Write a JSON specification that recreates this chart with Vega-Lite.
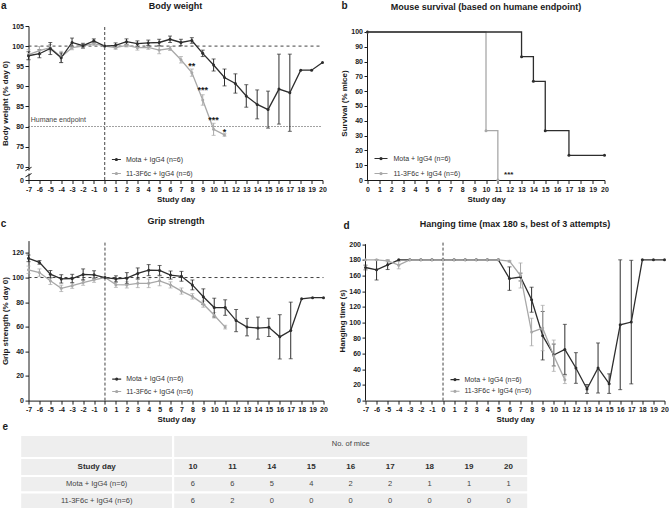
{
"$schema": "https://vega.github.io/schema/vega-lite/v6.json",
"background": "white",
"padding": {"left": 0.5, "top": 0, "right": 0, "bottom": 0},
"config": {
 "font": "Liberation Sans",
 "view": {"stroke": null},
 "axis": {"grid": false, "domainColor": "#1a1a1a", "tickColor": "#1a1a1a", "labelColor": "#1a1a1a", "titleColor": "#1a1a1a", "labelFont": "Liberation Sans", "titleFont": "Liberation Sans", "labelFontSize": 7, "labelFontWeight": "bold", "titleFontSize": 8, "titleFontWeight": "bold", "tickSize": 3.5, "tickWidth": 1, "domainWidth": 1, "labelPadding": 1.5, "titlePadding": 3, "labelFlush": false, "labelOverlap": false},
 "axisY": {"titlePadding": 2},
 "title": {"font": "Liberation Sans", "fontSize": 9, "fontWeight": "bold", "color": "#1a1a1a", "frame": "group", "anchor": "middle"},
 "legend": {"labelFont": "Liberation Sans", "labelFontSize": 7, "labelColor": "#333333", "padding": 0, "symbolStrokeWidth": 0, "symbolOpacity": 1}
},
"datasets": {
 "bw": [
  {"g":"11-3F6c + IgG4 (n=6)","day":-7,"m":97.9,"e":1.2},
  {"g":"11-3F6c + IgG4 (n=6)","day":-6,"m":98.9,"e":1.0},
  {"g":"11-3F6c + IgG4 (n=6)","day":-5,"m":99.6,"e":0.8},
  {"g":"11-3F6c + IgG4 (n=6)","day":-4,"m":97.3,"e":1.4},
  {"g":"11-3F6c + IgG4 (n=6)","day":-3,"m":99.6,"e":0.5},
  {"g":"11-3F6c + IgG4 (n=6)","day":-2,"m":100.0,"e":0.4},
  {"g":"11-3F6c + IgG4 (n=6)","day":-1,"m":100.6,"e":0.4},
  {"g":"11-3F6c + IgG4 (n=6)","day":0,"m":100,"e":0},
  {"g":"11-3F6c + IgG4 (n=6)","day":1,"m":99.6,"e":0.4},
  {"g":"11-3F6c + IgG4 (n=6)","day":2,"m":100.2,"e":0.4},
  {"g":"11-3F6c + IgG4 (n=6)","day":3,"m":99.6,"e":0.6},
  {"g":"11-3F6c + IgG4 (n=6)","day":4,"m":99.7,"e":0.5},
  {"g":"11-3F6c + IgG4 (n=6)","day":5,"m":99.0,"e":0.9},
  {"g":"11-3F6c + IgG4 (n=6)","day":6,"m":99.4,"e":0.5},
  {"g":"11-3F6c + IgG4 (n=6)","day":7,"m":96.6,"e":0.8},
  {"g":"11-3F6c + IgG4 (n=6)","day":8,"m":93.4,"e":0.9},
  {"g":"11-3F6c + IgG4 (n=6)","day":9,"m":86.6,"e":1.3},
  {"g":"11-3F6c + IgG4 (n=6)","day":10,"m":79.3,"e":1.5},
  {"g":"11-3F6c + IgG4 (n=6)","day":11,"m":77.9,"e":0.3},
  {"g":"Mota + IgG4 (n=6)","day":-7,"m":97.6,"e":1.0},
  {"g":"Mota + IgG4 (n=6)","day":-6,"m":98.1,"e":1.0},
  {"g":"Mota + IgG4 (n=6)","day":-5,"m":99.4,"e":1.5},
  {"g":"Mota + IgG4 (n=6)","day":-4,"m":97.1,"e":1.2},
  {"g":"Mota + IgG4 (n=6)","day":-3,"m":100.9,"e":1.1},
  {"g":"Mota + IgG4 (n=6)","day":-2,"m":100.1,"e":0.6},
  {"g":"Mota + IgG4 (n=6)","day":-1,"m":101.3,"e":0.5},
  {"g":"Mota + IgG4 (n=6)","day":0,"m":100,"e":0},
  {"g":"Mota + IgG4 (n=6)","day":1,"m":100.2,"e":0.6},
  {"g":"Mota + IgG4 (n=6)","day":2,"m":101.1,"e":0.7},
  {"g":"Mota + IgG4 (n=6)","day":3,"m":100.6,"e":0.7},
  {"g":"Mota + IgG4 (n=6)","day":4,"m":100.8,"e":0.7},
  {"g":"Mota + IgG4 (n=6)","day":5,"m":100.9,"e":0.8},
  {"g":"Mota + IgG4 (n=6)","day":6,"m":101.7,"e":0.8},
  {"g":"Mota + IgG4 (n=6)","day":7,"m":100.9,"e":0.8},
  {"g":"Mota + IgG4 (n=6)","day":8,"m":101.4,"e":0.7},
  {"g":"Mota + IgG4 (n=6)","day":9,"m":98.2,"e":0.8},
  {"g":"Mota + IgG4 (n=6)","day":10,"m":95.3,"e":1.5},
  {"g":"Mota + IgG4 (n=6)","day":11,"m":92.2,"e":2.1},
  {"g":"Mota + IgG4 (n=6)","day":12,"m":90.7,"e":2.4},
  {"g":"Mota + IgG4 (n=6)","day":13,"m":87.6,"e":2.8},
  {"g":"Mota + IgG4 (n=6)","day":14,"m":85.5,"e":3.6},
  {"g":"Mota + IgG4 (n=6)","day":15,"m":84.2,"e":4.6},
  {"g":"Mota + IgG4 (n=6)","day":16,"m":89.3,"e":8.7},
  {"g":"Mota + IgG4 (n=6)","day":17,"m":88.4,"e":9.6},
  {"g":"Mota + IgG4 (n=6)","day":18,"m":94.0,"e":0},
  {"g":"Mota + IgG4 (n=6)","day":19,"m":94.0,"e":0},
  {"g":"Mota + IgG4 (n=6)","day":20,"m":95.9,"e":0}
 ],
 "gs": [
  {"g":"11-3F6c + IgG4 (n=6)","day":-7,"m":106.3,"e":3},
  {"g":"11-3F6c + IgG4 (n=6)","day":-6,"m":104,"e":3},
  {"g":"11-3F6c + IgG4 (n=6)","day":-5,"m":97.3,"e":3},
  {"g":"11-3F6c + IgG4 (n=6)","day":-4,"m":91.2,"e":2.6},
  {"g":"11-3F6c + IgG4 (n=6)","day":-3,"m":93.4,"e":2.2},
  {"g":"11-3F6c + IgG4 (n=6)","day":-2,"m":95.9,"e":2.2},
  {"g":"11-3F6c + IgG4 (n=6)","day":-1,"m":98.1,"e":2},
  {"g":"11-3F6c + IgG4 (n=6)","day":0,"m":100,"e":0},
  {"g":"11-3F6c + IgG4 (n=6)","day":1,"m":94.2,"e":2.2},
  {"g":"11-3F6c + IgG4 (n=6)","day":2,"m":94,"e":2.5},
  {"g":"11-3F6c + IgG4 (n=6)","day":3,"m":95.3,"e":3.5},
  {"g":"11-3F6c + IgG4 (n=6)","day":4,"m":95.3,"e":3.5},
  {"g":"11-3F6c + IgG4 (n=6)","day":5,"m":97.3,"e":4},
  {"g":"11-3F6c + IgG4 (n=6)","day":6,"m":94,"e":2.5},
  {"g":"11-3F6c + IgG4 (n=6)","day":7,"m":89,"e":2.5},
  {"g":"11-3F6c + IgG4 (n=6)","day":8,"m":84.7,"e":2.2},
  {"g":"11-3F6c + IgG4 (n=6)","day":9,"m":78.4,"e":2.5},
  {"g":"11-3F6c + IgG4 (n=6)","day":10,"m":69.3,"e":2.2},
  {"g":"11-3F6c + IgG4 (n=6)","day":11,"m":59.7,"e":1.5},
  {"g":"Mota + IgG4 (n=6)","day":-7,"m":115.6,"e":2.7},
  {"g":"Mota + IgG4 (n=6)","day":-6,"m":112.3,"e":1.5},
  {"g":"Mota + IgG4 (n=6)","day":-5,"m":102.7,"e":3},
  {"g":"Mota + IgG4 (n=6)","day":-4,"m":98.9,"e":3.4},
  {"g":"Mota + IgG4 (n=6)","day":-3,"m":99.2,"e":3.4},
  {"g":"Mota + IgG4 (n=6)","day":-2,"m":102.5,"e":4.5},
  {"g":"Mota + IgG4 (n=6)","day":-1,"m":102.2,"e":3.3},
  {"g":"Mota + IgG4 (n=6)","day":0,"m":100,"e":0},
  {"g":"Mota + IgG4 (n=6)","day":1,"m":98.9,"e":2.5},
  {"g":"Mota + IgG4 (n=6)","day":2,"m":99.5,"e":4.5},
  {"g":"Mota + IgG4 (n=6)","day":3,"m":103.3,"e":4.5},
  {"g":"Mota + IgG4 (n=6)","day":4,"m":106,"e":4.5},
  {"g":"Mota + IgG4 (n=6)","day":5,"m":105.8,"e":4},
  {"g":"Mota + IgG4 (n=6)","day":6,"m":102,"e":3.3},
  {"g":"Mota + IgG4 (n=6)","day":7,"m":101,"e":4},
  {"g":"Mota + IgG4 (n=6)","day":8,"m":94,"e":4},
  {"g":"Mota + IgG4 (n=6)","day":9,"m":84.4,"e":6.4},
  {"g":"Mota + IgG4 (n=6)","day":10,"m":75.6,"e":7.6},
  {"g":"Mota + IgG4 (n=6)","day":11,"m":75.6,"e":6.3},
  {"g":"Mota + IgG4 (n=6)","day":12,"m":65,"e":9},
  {"g":"Mota + IgG4 (n=6)","day":13,"m":59.7,"e":7.1},
  {"g":"Mota + IgG4 (n=6)","day":14,"m":58.9,"e":9},
  {"g":"Mota + IgG4 (n=6)","day":15,"m":59.5,"e":7.4},
  {"g":"Mota + IgG4 (n=6)","day":16,"m":51.8,"e":18},
  {"g":"Mota + IgG4 (n=6)","day":17,"m":57,"e":23},
  {"g":"Mota + IgG4 (n=6)","day":18,"m":82.7,"e":0},
  {"g":"Mota + IgG4 (n=6)","day":19,"m":83.6,"e":0},
  {"g":"Mota + IgG4 (n=6)","day":20,"m":83.6,"e":0}
 ],
 "ht": [
  {"g":"Mota + IgG4 (n=6)","day":-7,"m":170.2,"e":3},
  {"g":"Mota + IgG4 (n=6)","day":-6,"m":167.2,"e":13},
  {"g":"Mota + IgG4 (n=6)","day":-5,"m":173.6,"e":6},
  {"g":"Mota + IgG4 (n=6)","day":-4,"m":180,"e":0},
  {"g":"Mota + IgG4 (n=6)","day":-3,"m":180,"e":0},
  {"g":"Mota + IgG4 (n=6)","day":-2,"m":180,"e":0},
  {"g":"Mota + IgG4 (n=6)","day":-1,"m":180,"e":0},
  {"g":"Mota + IgG4 (n=6)","day":0,"m":180,"e":0},
  {"g":"Mota + IgG4 (n=6)","day":1,"m":180,"e":0},
  {"g":"Mota + IgG4 (n=6)","day":2,"m":180,"e":0},
  {"g":"Mota + IgG4 (n=6)","day":3,"m":180,"e":0},
  {"g":"Mota + IgG4 (n=6)","day":4,"m":180,"e":0},
  {"g":"Mota + IgG4 (n=6)","day":5,"m":180,"e":0},
  {"g":"Mota + IgG4 (n=6)","day":6,"m":156,"e":15},
  {"g":"Mota + IgG4 (n=6)","day":7,"m":158,"e":5},
  {"g":"Mota + IgG4 (n=6)","day":8,"m":129,"e":16},
  {"g":"Mota + IgG4 (n=6)","day":9,"m":83,"e":31},
  {"g":"Mota + IgG4 (n=6)","day":10,"m":58.3,"e":14},
  {"g":"Mota + IgG4 (n=6)","day":11,"m":65.5,"e":32},
  {"g":"Mota + IgG4 (n=6)","day":12,"m":41.7,"e":19.6},
  {"g":"Mota + IgG4 (n=6)","day":13,"m":14.9,"e":5.7},
  {"g":"Mota + IgG4 (n=6)","day":14,"m":41.7,"e":32},
  {"g":"Mota + IgG4 (n=6)","day":15,"m":21.7,"e":12.5},
  {"g":"Mota + IgG4 (n=6)","day":16,"m":97,"e":83},
  {"g":"Mota + IgG4 (n=6)","day":17,"m":100.4,"e":79},
  {"g":"Mota + IgG4 (n=6)","day":18,"m":180,"e":0},
  {"g":"Mota + IgG4 (n=6)","day":19,"m":180,"e":0},
  {"g":"Mota + IgG4 (n=6)","day":20,"m":180,"e":0},
  {"g":"11-3F6c + IgG4 (n=6)","day":-7,"m":180,"e":0},
  {"g":"11-3F6c + IgG4 (n=6)","day":-6,"m":180,"e":0},
  {"g":"11-3F6c + IgG4 (n=6)","day":-5,"m":178.7,"e":1.3},
  {"g":"11-3F6c + IgG4 (n=6)","day":-4,"m":173.2,"e":4.7},
  {"g":"11-3F6c + IgG4 (n=6)","day":-3,"m":180,"e":0},
  {"g":"11-3F6c + IgG4 (n=6)","day":-2,"m":180,"e":0},
  {"g":"11-3F6c + IgG4 (n=6)","day":-1,"m":180,"e":0},
  {"g":"11-3F6c + IgG4 (n=6)","day":0,"m":180,"e":0},
  {"g":"11-3F6c + IgG4 (n=6)","day":1,"m":180,"e":0},
  {"g":"11-3F6c + IgG4 (n=6)","day":2,"m":180,"e":0},
  {"g":"11-3F6c + IgG4 (n=6)","day":3,"m":180,"e":0},
  {"g":"11-3F6c + IgG4 (n=6)","day":4,"m":180,"e":0},
  {"g":"11-3F6c + IgG4 (n=6)","day":5,"m":180,"e":0},
  {"g":"11-3F6c + IgG4 (n=6)","day":6,"m":178.3,"e":1},
  {"g":"11-3F6c + IgG4 (n=6)","day":7,"m":160,"e":16},
  {"g":"11-3F6c + IgG4 (n=6)","day":8,"m":87.7,"e":17.6},
  {"g":"11-3F6c + IgG4 (n=6)","day":9,"m":92.8,"e":29},
  {"g":"11-3F6c + IgG4 (n=6)","day":10,"m":57.4,"e":20},
  {"g":"11-3F6c + IgG4 (n=6)","day":11,"m":26.8,"e":5}
 ],
 "sv": [
  {"g":"11-3F6c + IgG4 (n=6)","day":0,"s":100},
  {"g":"11-3F6c + IgG4 (n=6)","day":10,"s":33.33},
  {"g":"11-3F6c + IgG4 (n=6)","day":11,"s":0},
  {"g":"Mota + IgG4 (n=6)","day":0,"s":100},
  {"g":"Mota + IgG4 (n=6)","day":13,"s":83.33},
  {"g":"Mota + IgG4 (n=6)","day":14,"s":66.67},
  {"g":"Mota + IgG4 (n=6)","day":15,"s":33.33},
  {"g":"Mota + IgG4 (n=6)","day":17,"s":16.67},
  {"g":"Mota + IgG4 (n=6)","day":20,"s":16.67}
 ],
 "cells": [
  {"c":-0.5,"c2":0.5,"r":0,"r2":1},{"c":0.5,"c2":9.5,"r":0,"r2":1},
  {"c":-0.5,"c2":0.5,"r":1,"r2":2},{"c":0.5,"c2":9.5,"r":1,"r2":2},
  {"c":-0.5,"c2":0.5,"r":2,"r2":3},{"c":0.5,"c2":9.5,"r":2,"r2":3},
  {"c":-0.5,"c2":0.5,"r":3,"r2":4},{"c":0.5,"c2":9.5,"r":3,"r2":4}
 ],
 "tabN": [
  {"c":5,"r":0.4,"t":"No. of mice"},
  {"c":0,"r":2.5,"t":"Mota + IgG4 (n=6)"},
  {"c":1,"r":2.5,"t":"6"},{"c":2,"r":2.5,"t":"6"},{"c":3,"r":2.5,"t":"5"},{"c":4,"r":2.5,"t":"4"},{"c":5,"r":2.5,"t":"2"},{"c":6,"r":2.5,"t":"2"},{"c":7,"r":2.5,"t":"1"},{"c":8,"r":2.5,"t":"1"},{"c":9,"r":2.5,"t":"1"},
  {"c":0,"r":3.5,"t":"11-3F6c + IgG4 (n=6)"},
  {"c":1,"r":3.5,"t":"6"},{"c":2,"r":3.5,"t":"2"},{"c":3,"r":3.5,"t":"0"},{"c":4,"r":3.5,"t":"0"},{"c":5,"r":3.5,"t":"0"},{"c":6,"r":3.5,"t":"0"},{"c":7,"r":3.5,"t":"0"},{"c":8,"r":3.5,"t":"0"},{"c":9,"r":3.5,"t":"0"}
 ],
 "tabB": [
  {"c":0,"r":1.5,"t":"Study day"},
  {"c":1,"r":1.5,"t":"10"},{"c":2,"r":1.5,"t":"11"},{"c":3,"r":1.5,"t":"14"},{"c":4,"r":1.5,"t":"15"},{"c":5,"r":1.5,"t":"16"},{"c":6,"r":1.5,"t":"17"},{"c":7,"r":1.5,"t":"18"},{"c":8,"r":1.5,"t":"19"},{"c":9,"r":1.5,"t":"20"}
 ]
},
"resolve": {"scale": {"color": "independent"}, "legend": {"color": "independent"}},
"spacing": -2,
"vconcat": [
 {
  "resolve": {"scale": {"color": "independent"}, "legend": {"color": "independent"}},
  "spacing": 13.6,
  "vconcat": [
   {
    "resolve": {"scale": {"color": "independent"}, "legend": {"color": "independent"}},
    "spacing": 14,
    "hconcat": [
     {
      "width": 294, "height": 154,
      "title": {"text": "Body weight", "offset": -10.4},
      "encoding": {
       "x": {"field": "day", "type": "quantitative", "title": "Study day", "scale": {"domain": [-7, 20], "nice": false, "zero": false}, "axis": {"values": [-7,-6,-5,-4,-3,-2,-1,0,1,2,3,4,5,6,7,8,9,10,11,12,13,14,15,16,17,18,19,20], "labelOverlap": false, "labelExpr": "'' + datum.value"}},
       "y": {"field": "m", "type": "quantitative", "title": "Body weight (% day 0)", "scale": {"domain": [0, 70, 105], "range": [154, 140.7, 0], "nice": false, "zero": false}, "axis": {"values": [0, 70, 75, 80, 85, 90, 95, 100, 105], "labelOverlap": false}}
      },
      "layer": [
       {"data": {"values": [{"day": 0, "m": 0, "m2": 105}]}, "mark": {"type": "rule", "color": "#444444", "strokeDash": [3, 2], "strokeWidth": 1}, "encoding": {"y2": {"field": "m2"}}},
       {"data": {"values": [{"day": -7, "day2": 20, "m": 100}]}, "mark": {"type": "rule", "color": "#444444", "strokeDash": [3, 3], "strokeWidth": 1}, "encoding": {"x2": {"field": "day2"}}},
       {"data": {"values": [{"day": -7, "day2": 20, "m": 80}]}, "mark": {"type": "rule", "color": "#444444", "strokeDash": [1, 2], "strokeWidth": 1}, "encoding": {"x2": {"field": "day2"}}},
       {"data": {"values": [{"day": -7, "m": 34, "m2": 49}]}, "mark": {"type": "rule", "color": "white", "strokeWidth": 3}, "encoding": {"y2": {"field": "m2"}}},
       {"data": {"values": [{"day": -7.28, "day2": -6.72, "m": 16, "m2": 34}, {"day": -7.28, "day2": -6.72, "m": 49, "m2": 67}]}, "mark": {"type": "rule", "color": "#1a1a1a", "strokeWidth": 1}, "encoding": {"x2": {"field": "day2"}, "y2": {"field": "m2"}}},
       {"data": {"name": "bw"}, "transform": [{"filter": "datum.e > 0 && datum.g == '11-3F6c + IgG4 (n=6)'"}], "mark": {"type": "errorbar", "ticks": true, "size": 4, "thickness": 1, "color": "#a8a8a8"}, "encoding": {"yError": {"field": "e"}}},
       {"data": {"name": "bw"}, "transform": [{"filter": "datum.e > 0 && datum.g == 'Mota + IgG4 (n=6)'"}], "mark": {"type": "errorbar", "ticks": true, "size": 4, "thickness": 1, "color": "#2d2d2d"}, "encoding": {"yError": {"field": "e"}}},
       {"data": {"name": "bw"}, "transform": [{"filter": "datum.g == '11-3F6c + IgG4 (n=6)'"}], "mark": {"type": "line", "color": "#a8a8a8", "strokeWidth": 1.3}, "encoding": {}},
       {"data": {"name": "bw"}, "transform": [{"filter": "datum.g == 'Mota + IgG4 (n=6)'"}], "mark": {"type": "line", "color": "#2d2d2d", "strokeWidth": 1.3}, "encoding": {}},
       {"data": {"name": "bw"}, "mark": {"type": "point", "filled": true, "size": 9, "opacity": 1},
        "encoding": {"color": {"field": "g", "type": "nominal", "scale": {"domain": ["Mota + IgG4 (n=6)", "11-3F6c + IgG4 (n=6)"], "range": ["#2d2d2d", "#a8a8a8"]},
          "legend": {"title": null, "orient": "none", "legendX": 83.4, "legendY": 129, "symbolType": "M-1,-0.12H1V0.12H-1Z M-0.36,0A0.36,0.36 0 1,1 0.36,0A0.36,0.36 0 1,1 -0.36,0Z", "symbolSize": 81, "labelOffset": 5, "rowPadding": 6}}}},
       {"data": {"values": [{"day": 8.0, "m": 94.4, "t": "**"}, {"day": 9.0, "m": 88.4, "t": "***"}, {"day": 10.0, "m": 80.9, "t": "***"}, {"day": 11.0, "m": 78.0, "t": "*"}]},
        "mark": {"type": "text", "fontSize": 9, "fontWeight": "bold", "color": "#1a1a1a", "align": "center", "baseline": "alphabetic"}, "encoding": {"text": {"field": "t"}}},
       {"data": {"values": [{"day": -6.8, "m": 81.2, "t": "Humane endpoint"}]},
        "mark": {"type": "text", "fontSize": 7, "color": "#444444", "align": "left", "baseline": "alphabetic"}, "encoding": {"text": {"field": "t"}}},
       {"data": {"values": [{"day": -9.28, "m": 109.23, "t": "a"}]},
        "mark": {"type": "text", "fontSize": 10, "fontWeight": "bold", "color": "#1a1a1a", "align": "center", "baseline": "alphabetic"}, "encoding": {"text": {"field": "t"}}}
      ]
     },
     {
      "width": 237, "height": 154,
      "title": {"text": "Mouse survival (based on humane endpoint)", "offset": -10.9},
      "encoding": {
       "x": {"field": "day", "type": "quantitative", "title": "Study day", "scale": {"domain": [0, 20], "nice": false, "zero": false}, "axis": {"values": [0,1,2,3,4,5,6,7,8,9,10,11,12,13,14,15,16,17,18,19,20], "labelOverlap": false}},
       "y": {"field": "s", "type": "quantitative", "title": "Survival (% mice)", "scale": {"domain": [0, 104.05], "nice": false, "zero": false}, "axis": {"values": [0,10,20,30,40,50,60,70,80,90,100], "labelOverlap": false, "domain": false}}
      },
      "layer": [
       {"data": {"values": [{"day": 0, "s": 0, "s2": 100}]}, "mark": {"type": "rule", "color": "#1a1a1a", "strokeWidth": 1}, "encoding": {"y2": {"field": "s2"}}},
       {"data": {"name": "sv"}, "transform": [{"filter": "datum.g == '11-3F6c + IgG4 (n=6)'"}], "mark": {"type": "line", "interpolate": "step-after", "color": "#a8a8a8", "strokeWidth": 1.3}, "encoding": {}},
       {"data": {"name": "sv"}, "transform": [{"filter": "datum.g == 'Mota + IgG4 (n=6)'"}], "mark": {"type": "line", "interpolate": "step-after", "color": "#2d2d2d", "strokeWidth": 1.3}, "encoding": {}},
       {"data": {"name": "sv"}, "mark": {"type": "point", "filled": true, "size": 9, "opacity": 1},
        "encoding": {"color": {"field": "g", "type": "nominal", "scale": {"domain": ["Mota + IgG4 (n=6)", "11-3F6c + IgG4 (n=6)"], "range": ["#2d2d2d", "#a8a8a8"]},
          "legend": {"title": null, "orient": "none", "legendX": 7, "legendY": 126, "symbolType": "M-1,-0.09H1V0.09H-1Z M-0.25,0A0.25,0.25 0 1,1 0.25,0A0.25,0.25 0 1,1 -0.25,0Z", "symbolSize": 169, "labelOffset": 6, "rowPadding": 5}}}},
       {"data": {"values": [{"day": 11.92, "s": 1.8, "t": "***"}]},
        "mark": {"type": "text", "fontSize": 8, "fontWeight": "bold", "color": "#1a1a1a", "align": "center", "baseline": "alphabetic"}, "encoding": {"text": {"field": "t"}}},
       {"data": {"values": [{"day": -1.94, "s": 115.5, "t": "b"}]},
        "mark": {"type": "text", "fontSize": 10, "fontWeight": "bold", "color": "#1a1a1a", "align": "center", "baseline": "alphabetic"}, "encoding": {"text": {"field": "t"}}}
      ]
     }
    ]
   },
   {
    "resolve": {"scale": {"color": "independent"}, "legend": {"color": "independent"}},
    "spacing": 11,
    "hconcat": [
     {
      "width": 295, "height": 160,
      "title": {"text": "Grip strength", "offset": -6.4},
      "encoding": {
       "x": {"field": "day", "type": "quantitative", "title": "Study day", "scale": {"domain": [-7, 20], "nice": false, "zero": false}, "axis": {"values": [-7,-6,-5,-4,-3,-2,-1,0,1,2,3,4,5,6,7,8,9,10,11,12,13,14,15,16,17,18,19,20], "labelOverlap": false, "labelExpr": "'' + datum.value"}},
       "y": {"field": "m", "type": "quantitative", "title": "Grip strength (% day 0)", "scale": {"domain": [0, 130], "nice": false, "zero": false}, "axis": {"values": [0, 20, 40, 60, 80, 100, 120], "labelOverlap": false}}
      },
      "layer": [
       {"data": {"values": [{"day": 0, "m": 0, "m2": 130}]}, "mark": {"type": "rule", "color": "#444444", "strokeDash": [3, 2], "strokeWidth": 1}, "encoding": {"y2": {"field": "m2"}}},
       {"data": {"values": [{"day": -7, "day2": 20, "m": 100}]}, "mark": {"type": "rule", "color": "#444444", "strokeDash": [3, 3], "strokeWidth": 1}, "encoding": {"x2": {"field": "day2"}}},
       {"data": {"name": "gs"}, "transform": [{"filter": "datum.e > 0 && datum.g == '11-3F6c + IgG4 (n=6)'"}], "mark": {"type": "errorbar", "ticks": true, "size": 4, "thickness": 1, "color": "#a8a8a8"}, "encoding": {"yError": {"field": "e"}}},
       {"data": {"name": "gs"}, "transform": [{"filter": "datum.e > 0 && datum.g == 'Mota + IgG4 (n=6)'"}], "mark": {"type": "errorbar", "ticks": true, "size": 4, "thickness": 1, "color": "#2d2d2d"}, "encoding": {"yError": {"field": "e"}}},
       {"data": {"name": "gs"}, "transform": [{"filter": "datum.g == '11-3F6c + IgG4 (n=6)'"}], "mark": {"type": "line", "color": "#a8a8a8", "strokeWidth": 1.3}, "encoding": {}},
       {"data": {"name": "gs"}, "transform": [{"filter": "datum.g == 'Mota + IgG4 (n=6)'"}], "mark": {"type": "line", "color": "#2d2d2d", "strokeWidth": 1.3}, "encoding": {}},
       {"data": {"name": "gs"}, "mark": {"type": "point", "filled": true, "size": 9, "opacity": 1},
        "encoding": {"color": {"field": "g", "type": "nominal", "scale": {"domain": ["Mota + IgG4 (n=6)", "11-3F6c + IgG4 (n=6)"], "range": ["#2d2d2d", "#a8a8a8"]},
          "legend": {"title": null, "orient": "none", "legendX": 83.7, "legendY": 134, "symbolType": "M-1,-0.12H1V0.12H-1Z M-0.36,0A0.36,0.36 0 1,1 0.36,0A0.36,0.36 0 1,1 -0.36,0Z", "symbolSize": 81, "labelOffset": 5, "rowPadding": 4.4}}}},
       {"data": {"values": [{"day": -9.29, "m": 140.7, "t": "c"}]},
        "mark": {"type": "text", "fontSize": 10, "fontWeight": "bold", "color": "#1a1a1a", "align": "center", "baseline": "alphabetic"}, "encoding": {"text": {"field": "t"}}}
      ]
     },
     {
      "width": 299, "height": 160,
      "title": {"text": "Hanging time (max 180 s, best of 3 attempts)", "offset": -8.5},
      "encoding": {
       "x": {"field": "day", "type": "quantitative", "title": "Study day", "scale": {"domain": [-7, 20], "nice": false, "zero": false}, "axis": {"values": [-7,-6,-5,-4,-3,-2,-1,0,1,2,3,4,5,6,7,8,9,10,11,12,13,14,15,16,17,18,19,20], "labelOverlap": false, "labelExpr": "'' + datum.value"}},
       "y": {"field": "m", "type": "quantitative", "title": "Hanging time (s)", "scale": {"domain": [0, 204.6], "nice": false, "zero": false}, "axis": {"values": [0, 20, 40, 60, 80, 100, 120, 140, 160, 180, 200], "labelOverlap": false, "domain": false}}
      },
      "layer": [
       {"data": {"values": [{"day": -7, "m": 0, "m2": 200}]}, "mark": {"type": "rule", "color": "#1a1a1a", "strokeWidth": 1}, "encoding": {"y2": {"field": "m2"}}},
       {"data": {"values": [{"day": 0, "m": 0, "m2": 204.6}]}, "mark": {"type": "rule", "color": "#444444", "strokeDash": [3, 2], "strokeWidth": 1}, "encoding": {"y2": {"field": "m2"}}},
       {"data": {"name": "ht"}, "transform": [{"filter": "datum.e > 0 && datum.g == 'Mota + IgG4 (n=6)'"}], "mark": {"type": "errorbar", "ticks": true, "size": 4, "thickness": 1, "color": "#2d2d2d"}, "encoding": {"yError": {"field": "e"}}},
       {"data": {"name": "ht"}, "transform": [{"filter": "datum.e > 0 && datum.g == '11-3F6c + IgG4 (n=6)'"}], "mark": {"type": "errorbar", "ticks": true, "size": 4, "thickness": 1, "color": "#a8a8a8"}, "encoding": {"yError": {"field": "e"}}},
       {"data": {"name": "ht"}, "transform": [{"filter": "datum.g == 'Mota + IgG4 (n=6)'"}], "mark": {"type": "line", "color": "#2d2d2d", "strokeWidth": 1.3}, "encoding": {}},
       {"data": {"name": "ht"}, "transform": [{"filter": "datum.g == '11-3F6c + IgG4 (n=6)'"}], "mark": {"type": "line", "color": "#a8a8a8", "strokeWidth": 1.3}, "encoding": {}},
       {"data": {"name": "ht"}, "mark": {"type": "point", "filled": true, "size": 9, "opacity": 1},
        "encoding": {"color": {"field": "g", "type": "nominal", "scale": {"domain": ["Mota + IgG4 (n=6)", "11-3F6c + IgG4 (n=6)"], "range": ["#2d2d2d", "#a8a8a8"]},
          "legend": {"title": null, "orient": "none", "legendX": 85, "legendY": 134.5, "symbolType": "M-1,-0.12H1V0.12H-1Z M-0.36,0A0.36,0.36 0 1,1 0.36,0A0.36,0.36 0 1,1 -0.36,0Z", "symbolSize": 81, "labelOffset": 5, "rowPadding": 3.7}}}},
       {"data": {"values": [{"day": -8.71, "m": 219.6, "t": "d"}]},
        "mark": {"type": "text", "fontSize": 10, "fontWeight": "bold", "color": "#1a1a1a", "align": "center", "baseline": "alphabetic"}, "encoding": {"text": {"field": "t"}}}
      ]
     }
    ]
   }
  ]
 },
 {
  "width": 500, "height": 74,
  "encoding": {
   "x": {"field": "c", "type": "quantitative", "scale": {"domain": [-0.5, 0.5, 9.5], "range": [-8.3, 144.7, 499.7], "nice": false, "zero": false}, "axis": null},
   "y": {"field": "r", "type": "quantitative", "scale": {"domain": [0, 1, 2, 3, 4], "range": [0, 23, 41, 57.5, 74], "nice": false, "zero": false}, "axis": null}
  },
  "layer": [
   {"data": {"name": "cells"}, "mark": {"type": "rect", "fill": "#eeeeee", "stroke": "#ffffff", "strokeWidth": 2}, "encoding": {"x2": {"field": "c2"}, "y2": {"field": "r2"}}},
   {"data": {"name": "tabN"}, "mark": {"type": "text", "fontSize": 7.5, "color": "#444444", "align": "center", "baseline": "middle"}, "encoding": {"text": {"field": "t"}}},
   {"data": {"name": "tabB"}, "mark": {"type": "text", "fontSize": 8, "fontWeight": "bold", "color": "#2d2d2d", "align": "center", "baseline": "middle"}, "encoding": {"text": {"field": "t"}}},
   {"data": {"values": [{"c": -0.598, "r": -0.2, "t": "e"}]},
    "mark": {"type": "text", "fontSize": 10, "fontWeight": "bold", "color": "#1a1a1a", "align": "center", "baseline": "alphabetic"}, "encoding": {"text": {"field": "t"}}}
  ]
 }
]
}
